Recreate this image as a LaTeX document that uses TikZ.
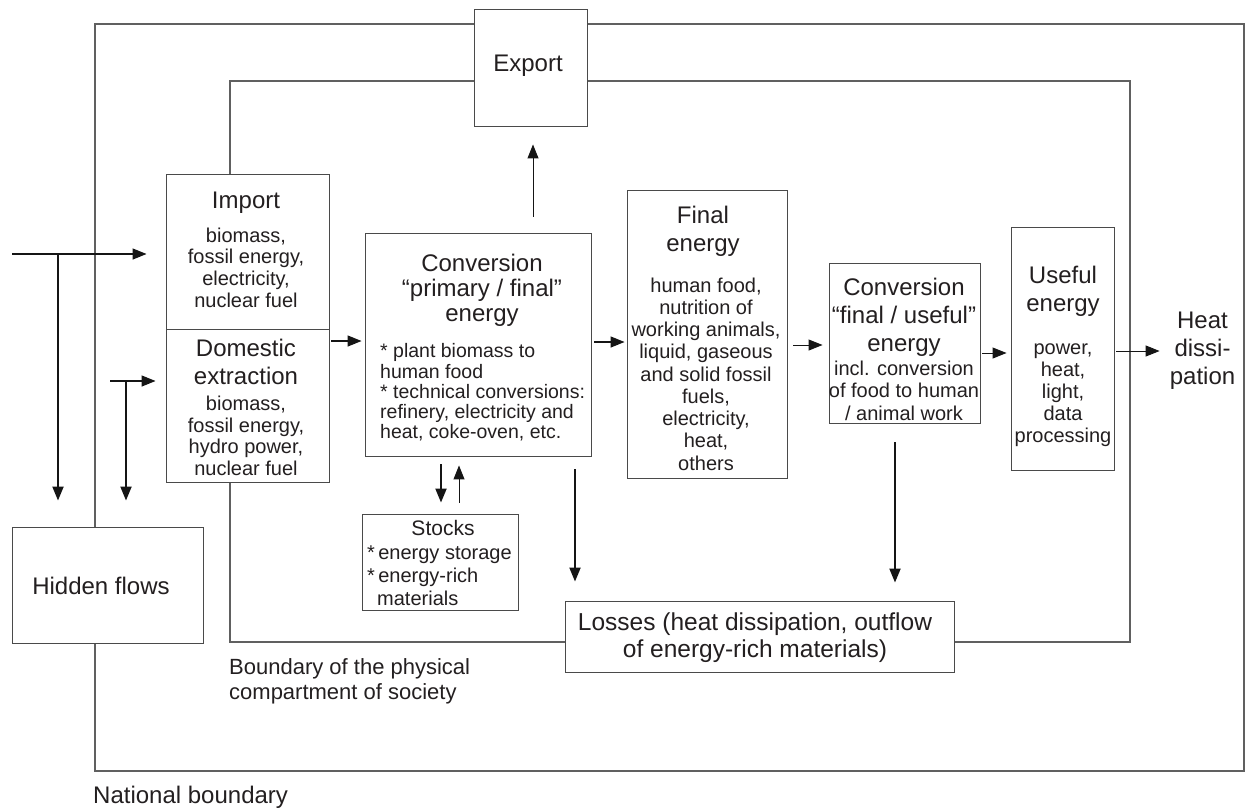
\documentclass[tikz,border=0pt]{standalone}
\usepackage{fontspec}
\setmainfont{Liberation Sans}
\usetikzlibrary{arrows.meta}
\definecolor{bndcol}{HTML}{606060}
\definecolor{boxcol}{HTML}{4A4A4A}
\definecolor{txtcol}{HTML}{231F20}
\definecolor{arrcol}{HTML}{151515}
\newcommand\TitleFont{\fontsize{24}{28}\selectfont}
\begin{document}
\begin{tikzpicture}[x=1pt,y=-1pt,
  bnd/.style={draw=bndcol, line width=1.1pt},
  box/.style={draw=boxcol, fill=white, line width=0.9pt, inner sep=0pt},
  txt/.style={inner sep=0pt, text=txtcol, align=center, anchor=north},
  arr/.style={draw=arrcol, line width=1.3pt, -{Triangle[length=14pt,width=11pt]}},
  arrthick/.style={arr, line width=2pt},
  arrthin/.style={arr, line width=1pt}]
\useasboundingbox (0,0) rectangle (1245,809);

% boundaries
\draw[bnd] (95,24) rectangle (1244,771);
\draw[bnd] (230,81) rectangle (1130,642);

% boxes
\node[box, minimum width=113pt, minimum height=117pt] (exp) at (530.5,67.5) {};
\node[box, minimum width=163pt, minimum height=155pt] (imp) at (247.5,251.5) {};
\node[box, minimum width=163pt, minimum height=153pt] (dom) at (247.5,405.5) {};
\node[box, minimum width=226pt, minimum height=223pt] (conv) at (478,344.5) {};
\node[box, minimum width=160pt, minimum height=288pt] (fin) at (707,334) {};
\node[box, minimum width=151pt, minimum height=160pt] (conv2) at (904.5,343) {};
\node[box, minimum width=103pt, minimum height=243pt] (use) at (1062.5,348.5) {};
\node[box, minimum width=156pt, minimum height=96pt] (stk) at (440,562) {};
\node[box, minimum width=389pt, minimum height=71pt] (los) at (759.5,636.5) {};
\node[box, minimum width=191pt, minimum height=116pt] (hid) at (107.5,585) {};

% texts
\node[txt, anchor=base, font=\TitleFont] (expT) at (528,71.5) {Export};

\node[txt, anchor=base, font=\TitleFont] (impT) at (246,208.5) {Import};
\node[txt, font=\fontsize{20}{21.7}\selectfont] (impB) at (246,226.8)
  {\strut biomass,\\fossil energy,\\electricity,\\nuclear fuel};

\node[txt, font=\TitleFont] (domT) at (246,336.9) {\strut Domestic\\extraction};
\node[txt, font=\fontsize{20}{21.7}\selectfont] (domB) at (246,395.1)
  {\strut biomass,\\fossil energy,\\hydro power,\\nuclear fuel};

\node[txt, font=\fontsize{24}{25}\selectfont] (convT) at (482,254)
  {\strut Conversion\\“primary / final”\\energy};
\node[txt, anchor=north west, align=left, font=\fontsize{19.5}{20}\selectfont] (convB) at (380,342.8)
  {\strut * plant biomass to\\human food\\* technical conversions:\\refinery, electricity and\\heat, coke-oven, etc.};

\node[txt, font=\TitleFont] (finT) at (703,203.9) {\strut Final\\energy};
\node[txt, font=\fontsize{20}{22.25}\selectfont] (finB) at (706,276.4)
  {\strut human food,\\nutrition of\\working animals,\\liquid, gaseous\\and solid fossil\\fuels,\\electricity,\\heat,\\others};

\node[txt, font=\TitleFont] (conv2T) at (904,275.9)
  {\strut Conversion\\“final / useful”\\energy};
\node[txt, font=\fontsize{20}{22.5}\selectfont] (conv2B) at (904,359.25)
  {\strut incl. conversion\\of food to human\\/ animal work};

\node[txt, font=\TitleFont] (useT) at (1063,263.9) {\strut Useful\\energy};
\node[txt, font=\fontsize{20}{22}\selectfont] (useB) at (1063,338.6)
  {\strut power,\\heat,\\light,\\data\\processing};

\node[txt, font=\TitleFont] (heat) at (1202.5,308.9) {\strut Heat\\dissi-\\pation};

\node[txt, anchor=base, font=\fontsize{21}{24}\selectfont] (stkT) at (443,535.5) {Stocks};
\node[txt, anchor=north west, align=left, font=\fontsize{20}{23}\selectfont] (stkB) at (367,543.4)
  {\strut *\,energy storage\\*\,energy-rich\\\hspace*{10pt}materials};

\node[txt, font=\fontsize{24.5}{27}\selectfont] (losT) at (755,611.1)
  {\strut Losses (heat dissipation, outflow\\of energy-rich materials)};

\node[txt, anchor=base, font=\TitleFont] (hidT) at (101,594.3) {Hidden flows};

\node[txt, anchor=north west, align=left, font=\fontsize{22}{25}\selectfont] (bndT) at (229,656.5)
  {\strut Boundary of the physical\\compartment of society};
\node[txt, anchor=base west, font=\TitleFont] (natT) at (93,803) {National boundary};

% helper coordinates for free ends and lanes
\coordinate (inL) at (12,254);
\coordinate (hf1) at (58,254);
\coordinate (dL) at (110,381);
\coordinate (hf2) at (126,381);
\coordinate (xe) at (533,0);
\coordinate (xs1) at (441,0);
\coordinate (xs2) at (459,0);
\coordinate (xl1) at (575,0);
\coordinate (xl2) at (895,0);
\coordinate (y1) at (0,341);
\coordinate (y2) at (0,342);
\coordinate (y3) at (0,345);
\coordinate (y4) at (0,353);
\coordinate (y5) at (0,351);

% connectors
\draw[arr, shorten >=19pt] (inL) -- (inL -| imp.west);
\draw[arrthick, shorten >=26pt] (hf1) -- (hf1 |- hid.north);
\draw[arr, shorten >=10pt] (dL) -- (dL -| dom.west);
\draw[arrthick, shorten >=26pt] (hf2) -- (hf2 |- hid.north);
\draw[arr, shorten <=2pt, shorten >=3pt] (dom.east |- y1) -- (conv.west |- y1);
\draw[arrthin, shorten <=16pt, shorten >=18pt] (conv.north -| xe) -- (exp.south -| xe);
\draw[arrthick, shorten <=8pt, shorten >=11pt] (conv.south -| xs1) -- (stk.north -| xs1);
\draw[arrthin, shorten <=11pt, shorten >=9pt] (stk.north -| xs2) -- (conv.south -| xs2);
\draw[arrthick, shorten <=13pt, shorten >=19pt] (conv.south -| xl1) -- (los.north -| xl1);
\draw[arrthick, shorten <=19pt, shorten >=18pt] (conv2.south -| xl2) -- (los.north -| xl2);
\draw[arr, shorten <=3pt, shorten >=2pt] (conv.east |- y2) -- (fin.west |- y2);
\draw[arrthin, shorten <=6pt, shorten >=6pt] (fin.east |- y3) -- (conv2.west |- y3);
\draw[arrthin, shorten <=2pt, shorten >=4pt] (conv2.east |- y4) -- (use.west |- y4);
\draw[arrthin, shorten <=2pt, shorten >=10pt] (use.east |- y5) -- (heat.west |- y5);
\end{tikzpicture}
\end{document}
